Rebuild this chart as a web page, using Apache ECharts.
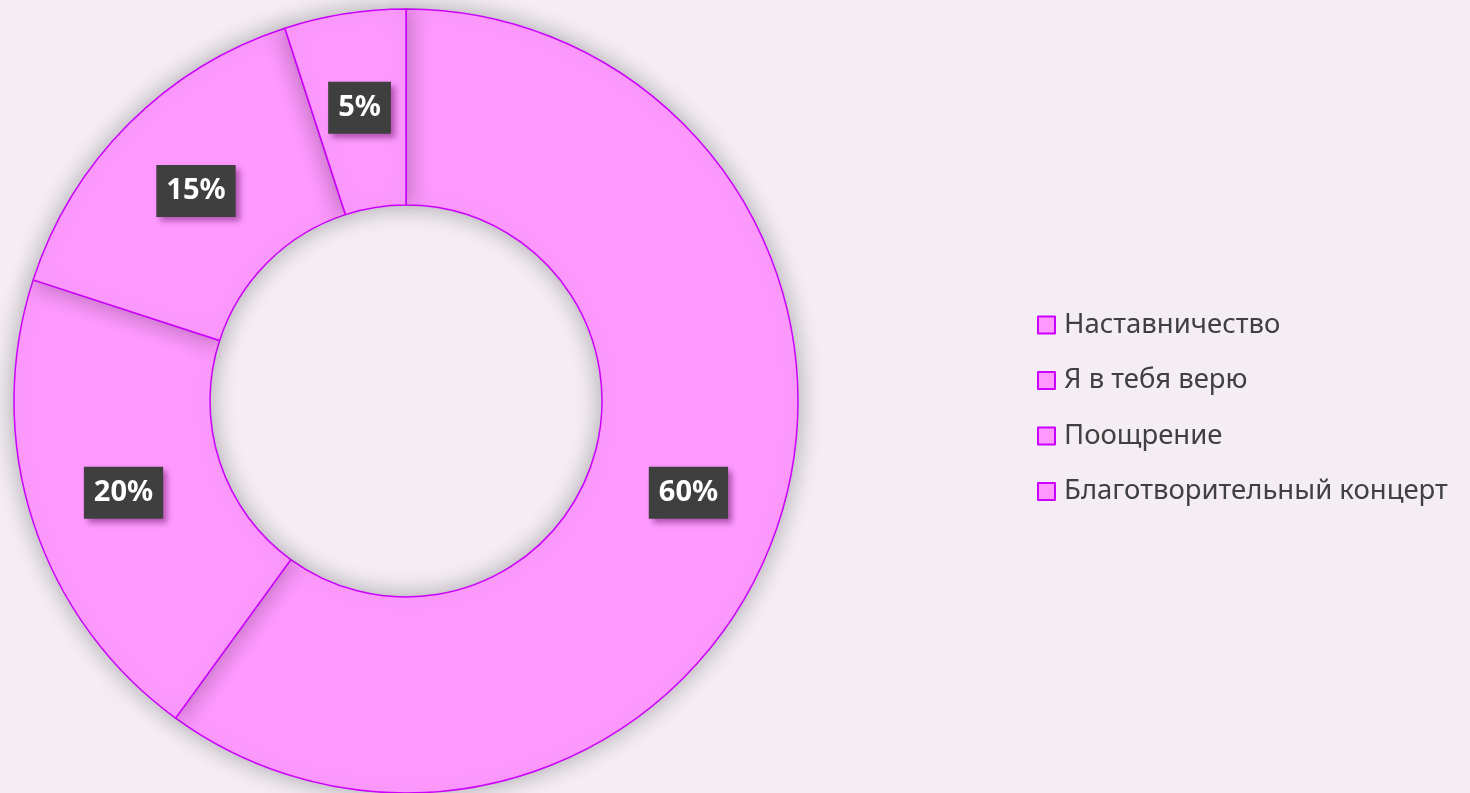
<!DOCTYPE html>
<html>
<head>
<meta charset="utf-8">
<script src="https://cdn.jsdelivr.net/npm/echarts@6/dist/echarts.min.js"></script>
<style>
  html, body { margin: 0; padding: 0; background: #f4eef4; }
  #chart { width: 1470px; height: 793px; }
</style>
</head>
<body>
<div id="chart"></div>
<script>
  // данные диаграммы
  const categories = ['Наставничество', 'Я в тебя верю', 'Поощрение', 'Благотворительный концерт']
  const values = [60, 20, 15, 5]

  const chart = echarts.init(document.getElementById('chart'))

  let option = {
    backgroundColor: '#f4eef4',
    animation: false,
    legend: {
      orient: 'vertical',
      left: 1032,
      top: 306,
      itemWidth: 17,
      itemHeight: 17,
      itemGap: 27.5,
      icon: 'rect',
      textStyle: {
        fontFamily: 'Noto Sans',
        fontSize: 27.5,
        lineHeight: 27,
        color: '#404040',
        padding: [0, 0, 0, 4]
      },
      data: categories
    },
    series: [
      {
        type: 'pie',
        center: [406, 401],
        radius: [196, 392],
        startAngle: 90,
        clockwise: true,
        avoidLabelOverlap: false,
        itemStyle: {
          color: '#ff99ff',
          borderColor: '#cc00ff',
          borderWidth: 1.5,
          shadowBlur: 24,
          shadowColor: 'rgba(0,0,0,0.3)'
        },
        emphasis: { disabled: true },
        label: {
          show: true,
          position: 'inside',
          formatter: '{c}%',
          fontFamily: 'Noto Sans',
          fontWeight: 'bold',
          fontSize: 29,
          lineHeight: 30,
          color: '#ffffff',
          backgroundColor: '#3f3f3f',
          padding: [12, 10, 10, 10],
          shadowBlur: 6,
          shadowOffsetX: 4,
          shadowOffsetY: 4,
          shadowColor: 'rgba(80,0,80,0.45)'
        },
        labelLine: { show: false },
        data: categories.map((name, i) => ({ name: name, value: values[i] }))
      }
    ]
  }

  chart.setOption(option)
</script>
</body>
</html>
